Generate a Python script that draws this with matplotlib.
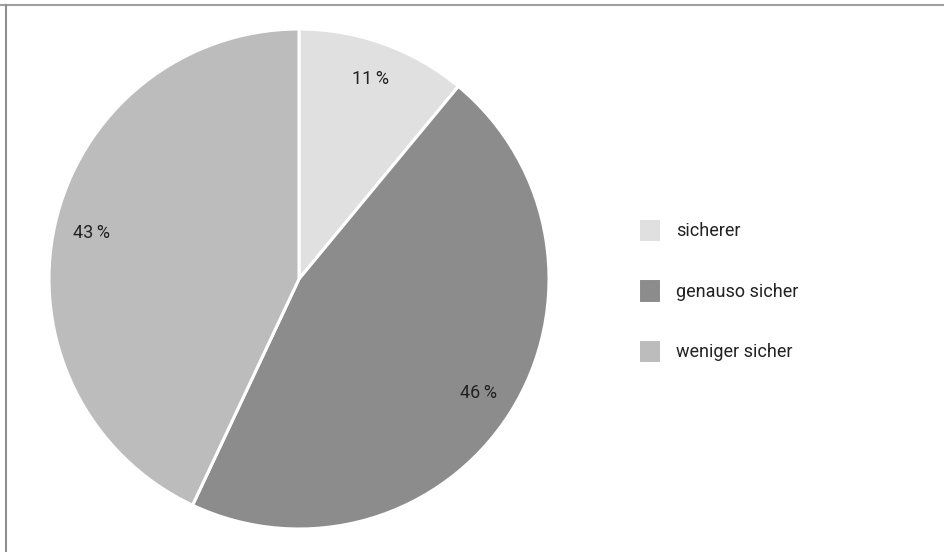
import matplotlib
matplotlib.use("Agg")
import matplotlib.pyplot as plt
from matplotlib.lines import Line2D

plt.rcParams['font.family'] = ['Roboto', 'DejaVu Sans']

categories = ["sicherer", "genauso sicher", "weniger sicher"]
values = [11, 46, 43]
colors = ["#e0e0e0", "#8c8c8c", "#bbbcbb"]

W, H = 944, 552
fig = plt.figure(figsize=(W / 100, H / 100), dpi=100)

# pie axes placed in pixel-derived figure fractions
cx, cy, r = 299, 279, 250
ax = fig.add_axes([(cx - r) / W, (H - cy - r) / H, 2 * r / W, 2 * r / H])
wedges, texts, autotexts = ax.pie(
    values, colors=colors, startangle=90, counterclock=False,
    autopct=lambda p: f"{p:.0f}\u2009%", pctdistance=0.85,
    wedgeprops=dict(edgecolor="white", linewidth=2.2),
    textprops=dict(fontsize=13, color="#222222"),
)
ax.set_aspect("equal")
ax.set_xlim(-1, 1)
ax.set_ylim(-1, 1)

leg = fig.legend(
    wedges, categories, loc="upper left",
    bbox_to_anchor=(638 / W, 1 - 218 / H),
    frameon=False, fontsize=13, handlelength=1.25, handleheight=1.7,
    handletextpad=0.85, labelspacing=2.0, borderpad=0, borderaxespad=0,
)
for t in leg.get_texts():
    t.set_color("#222222")

# frame lines (top and left)
fig.add_artist(Line2D([0, 1], [1 - 4.5 / H, 1 - 4.5 / H], color="#a0a0a0", lw=1.5,
                      transform=fig.transFigure))
fig.add_artist(Line2D([5.5 / W, 5.5 / W], [0, 1 - 4.5 / H], color="#909090", lw=1.5,
                      transform=fig.transFigure))

fig.savefig("out.png", dpi=100, facecolor="white")
